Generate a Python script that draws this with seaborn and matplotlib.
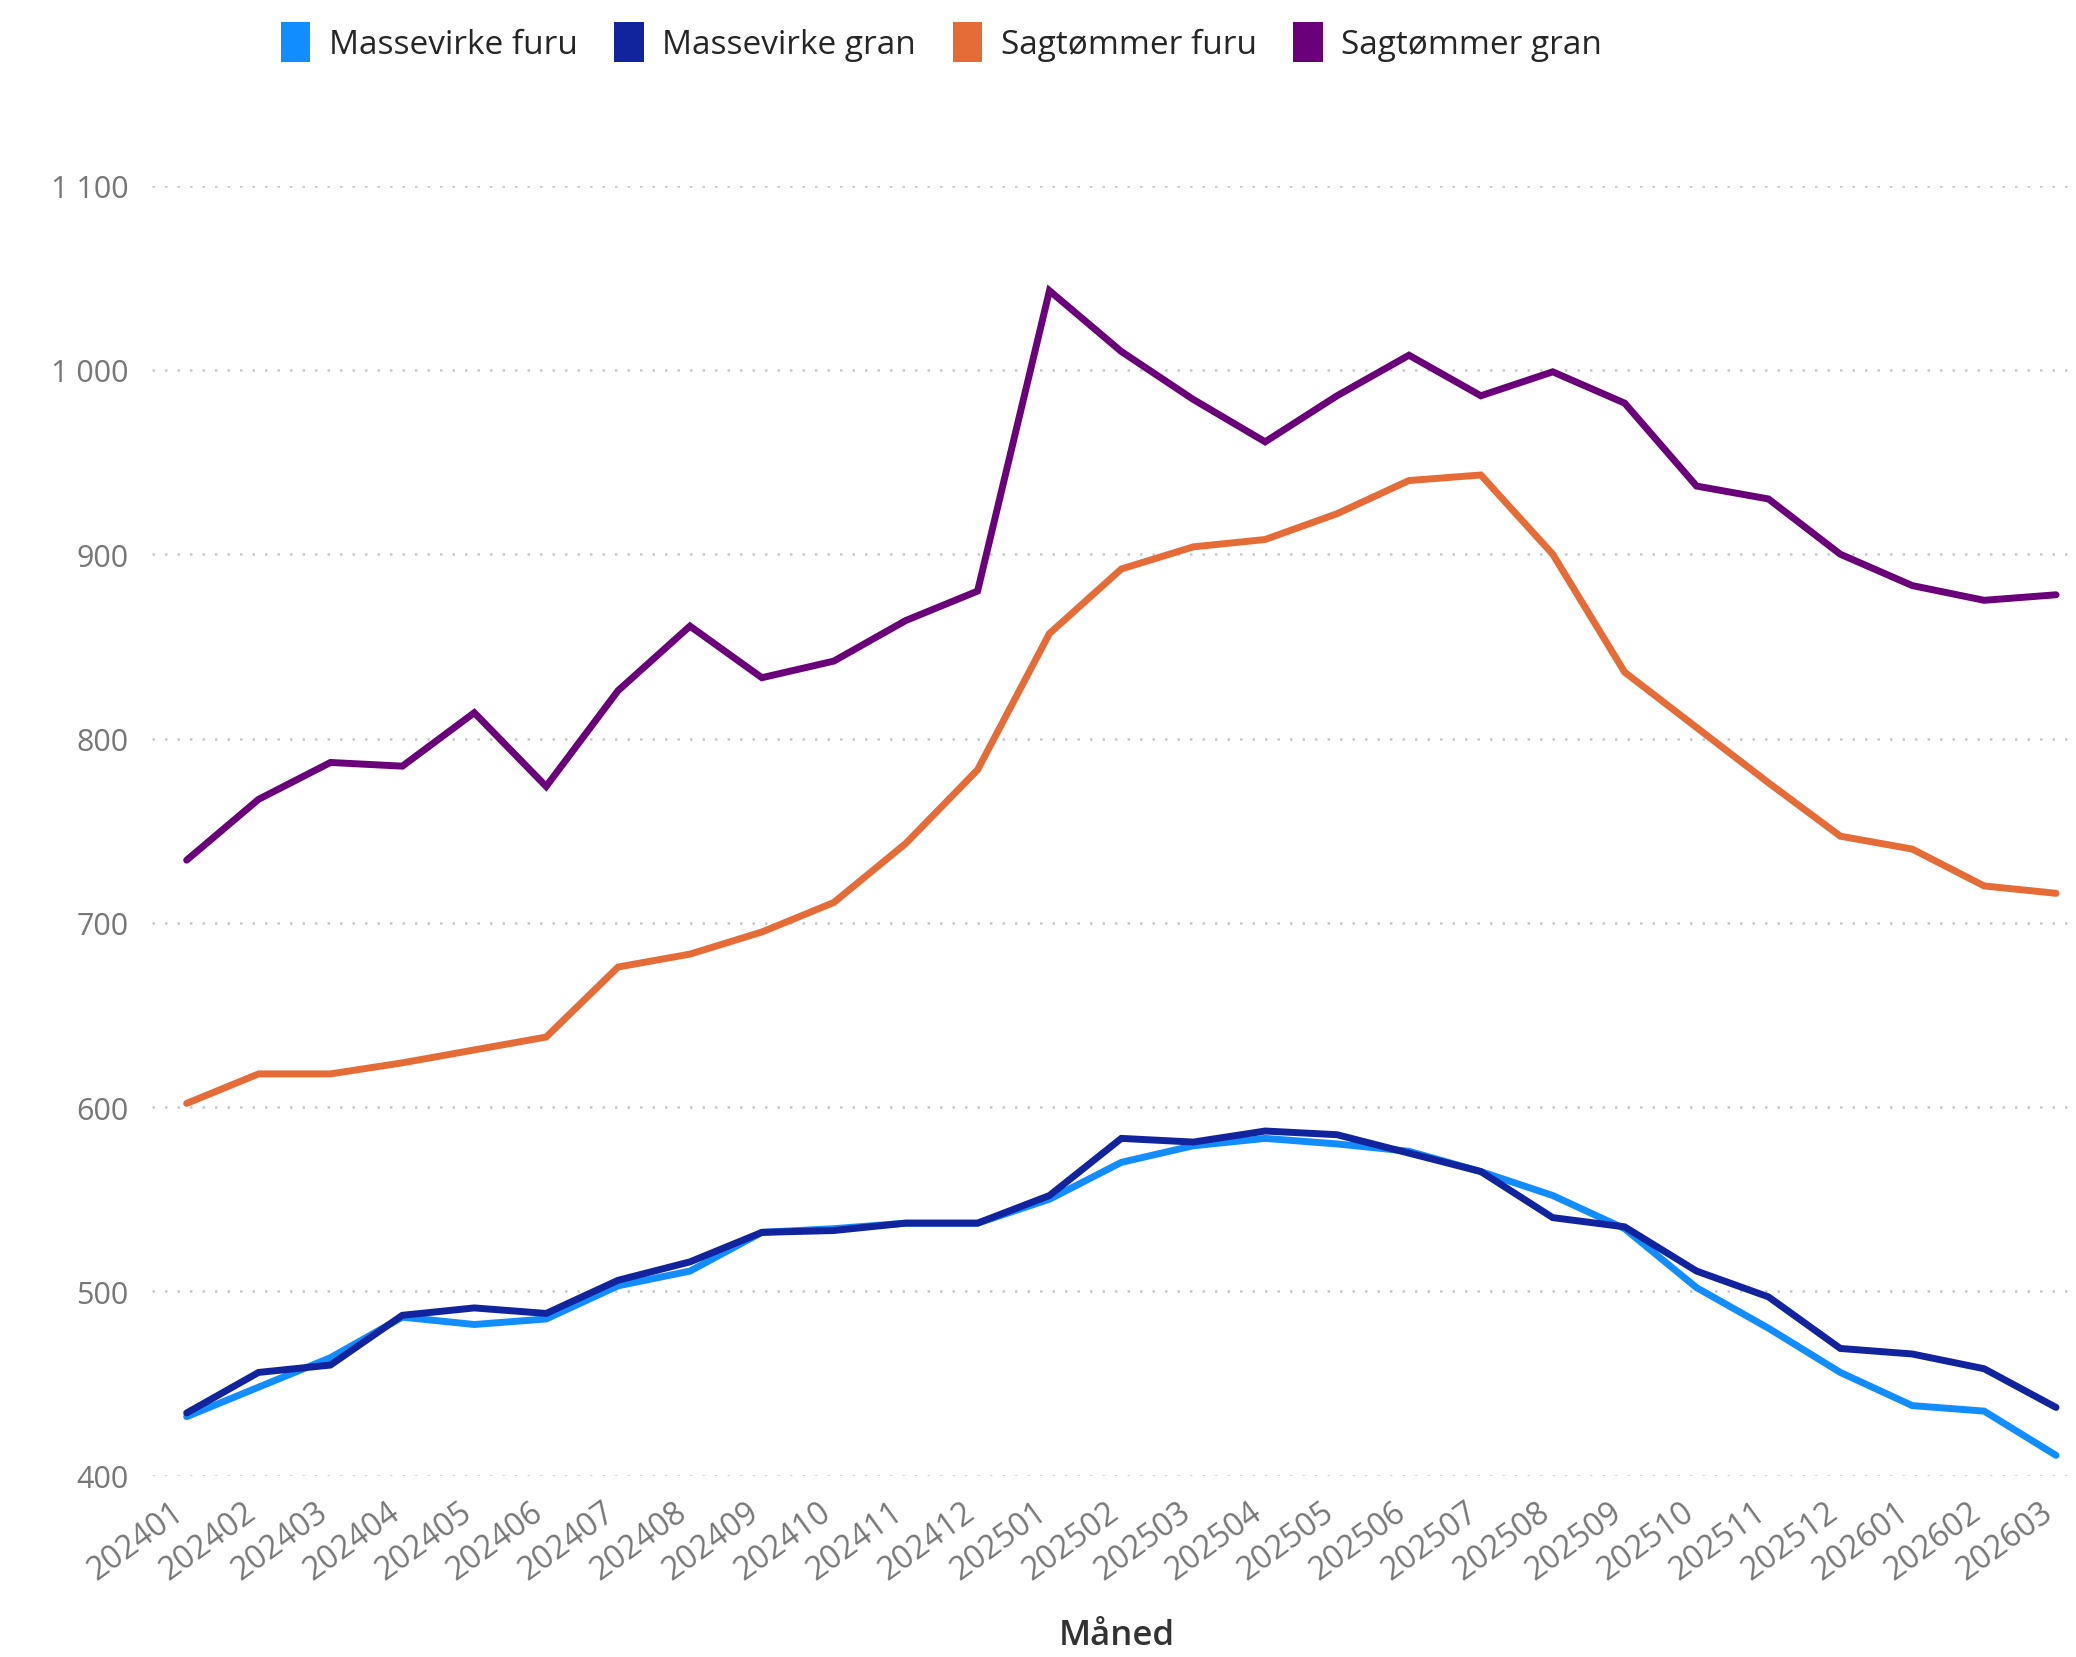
import pandas as pd
import matplotlib.pyplot as plt
import matplotlib.transforms as mtransforms
import seaborn as sns
from matplotlib.patches import Patch

# Months (x categories)
months = ["202401", "202402", "202403", "202404", "202405", "202406", "202407",
          "202408", "202409", "202410", "202411", "202412", "202501", "202502",
          "202503", "202504", "202505", "202506", "202507", "202508", "202509",
          "202510", "202511", "202512", "202601", "202602", "202603"]

# Prices per series
massevirke_furu = [432, 448, 464, 486, 482, 485, 503, 511, 532, 534, 537, 537, 550, 570,
                   579, 583, 580, 576, 565, 552, 534, 502, 480, 456, 438, 435, 411]
massevirke_gran = [434, 456, 460, 487, 491, 488, 506, 516, 532, 533, 537, 537, 552, 583,
                   581, 587, 585, 575, 565, 540, 535, 511, 497, 469, 466, 458, 437]
sagtommer_furu = [602, 618, 618, 624, 631, 638, 676, 683, 695, 711, 743, 783, 857, 892,
                  904, 908, 922, 940, 943, 900, 836, 806, 776, 747, 740, 720, 716]
sagtommer_gran = [734, 767, 787, 785, 814, 774, 826, 861, 833, 842, 864, 880, 1043, 1010,
                  984, 961, 986, 1008, 986, 999, 982, 937, 930, 900, 883, 875, 878]

series_names = ["Massevirke furu", "Massevirke gran", "Sagtømmer furu", "Sagtømmer gran"]
colors = ["#118DFF", "#12239E", "#E66C37", "#6B007B"]

# Long format for seaborn
frames = []
for name, vals in zip(series_names, [massevirke_furu, massevirke_gran, sagtommer_furu, sagtommer_gran]):
    frames.append(pd.DataFrame({"Måned": months, "Pris": vals, "Sortiment": name}))
df = pd.concat(frames, ignore_index=True)

sns.set_style("white")
plt.rcParams['font.family'] = ['Open Sans', 'DejaVu Sans']

fig = plt.figure(figsize=(20.76, 16.58), dpi=100)
ax = fig.add_axes([0.0733, 0.1094, 0.9247, 0.778])

sns.lineplot(data=df, x="Måned", y="Pris", hue="Sortiment", hue_order=series_names,
             palette=colors, linewidth=5, sort=False, legend=False, ax=ax)
for line in ax.get_lines():
    line.set_clip_on(False)
    line.set_solid_joinstyle("miter")

ax.set_xlim(-0.48, 26.22)
ax.set_ylim(400, 1100)
ax.set_yticks([400, 500, 600, 700, 800, 900, 1000, 1100])
ax.set_yticklabels(["400", "500", "600", "700", "800", "900", "1 000", "1 100"])
ax.yaxis.grid(True, linestyle=(0, (1, 4)), color="#c8c8c8", linewidth=1.8)
ax.xaxis.grid(False)
ax.set_axisbelow(True)
for s in ax.spines.values():
    s.set_visible(False)

ax.tick_params(axis="y", labelsize=22, labelcolor="#777777", length=0, pad=17)
ax.tick_params(axis="x", labelsize=23, labelcolor="#777777", length=0, pad=14)
shift = mtransforms.ScaledTranslation(-0.16, 0, fig.dpi_scale_trans)
for lbl in ax.get_xticklabels():
    lbl.set_rotation(36)
    lbl.set_ha("right")
    lbl.set_rotation_mode("anchor")
    lbl.set_transform(lbl.get_transform() + shift)

ax.set_ylabel("")
ax.set_xlabel("")
fig.text(0.538, 0.003, "Måned", fontsize=25, color="#333333", fontweight="semibold",
         ha="center", va="bottom")

# Legend at top
handles = [Patch(facecolor=c, edgecolor="none") for c in colors]
fig.legend(handles, series_names, loc="center", bbox_to_anchor=(0.4535, 0.974), ncol=4,
           frameon=False, fontsize=24, handlelength=0.88, handleheight=1.5,
           handletextpad=0.56, columnspacing=1.1)

fig.savefig("out.png", dpi=100, facecolor="white")
